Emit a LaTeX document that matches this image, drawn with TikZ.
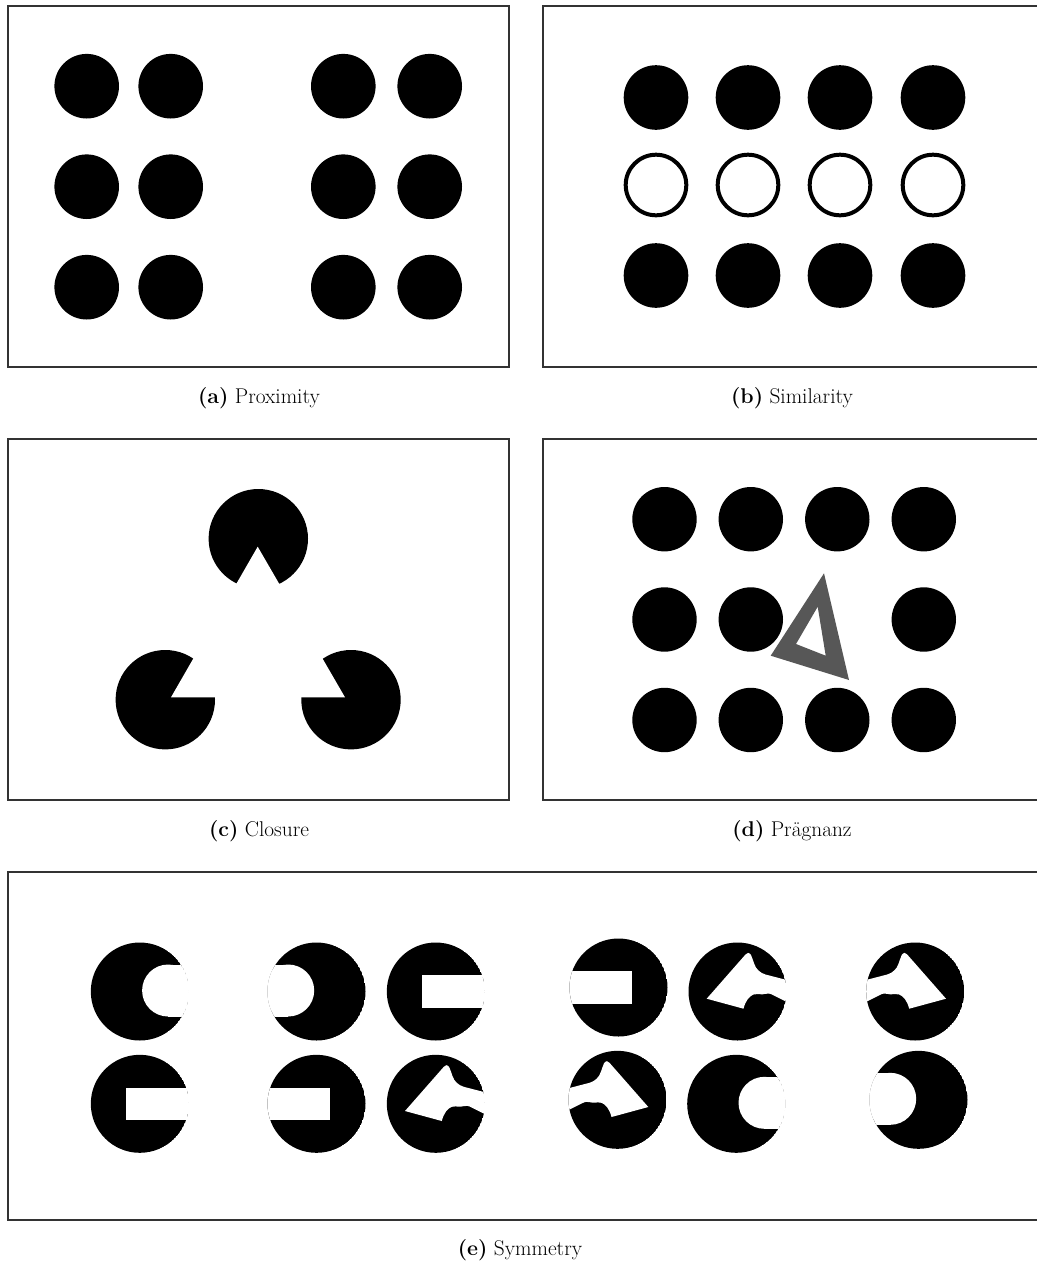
\documentclass[tikz,border=0pt]{standalone}
\usepackage{fontspec}
\begin{document}
\begin{tikzpicture}[x=0.75pt,y=-0.75pt,
  frame/.style={draw=black!80,line width=0.9pt},
  ring/.style={draw=black,line width=3pt,fill=white},
  captext/.style={font=\fontsize{16}{19}\selectfont,anchor=base},
  tri/.style={fill=black!66,even odd rule},
  cbite/.pic={\begin{scope}
      \clip (0,0) circle[radius=49];
      \fill (0,0) circle[radius=49];
      \fill[white] (28.3,-1) circle[radius=26];
      \fill[white] (28.3,-27) rectangle (60,25);
    \end{scope}},
  rbite/.pic={\begin{scope}
      \clip (0,0) circle[radius=49];
      \fill (0,0) circle[radius=49];
      \fill[white] (-13.5,-16.3) rectangle (60,16.3);
    \end{scope}},
  fbite/.pic={\begin{scope}
      \clip (0,0) circle[radius=49];
      \fill (0,0) circle[radius=49];
      \fill[white] (8,-37) .. controls (9,-39.5) and (12,-39) .. (13.5,-36.5)
        .. controls (16,-31) and (17,-24) .. (21,-21)
        .. controls (23,-19) and (25,-18) .. (28,-17) -- (55,-10) -- (55,13.3)
        -- (36,3.8) .. controls (33,2) and (30,1.5) .. (28,2.3)
        .. controls (25,3.5) and (20,2) .. (16,3)
        .. controls (12,4.5) and (8,9) .. (6,17.2) -- (-30.8,7.2) -- cycle;
    \end{scope}}
]
\useasboundingbox (0,0) rectangle (1036,1264);
\fill[white] (0,0) rectangle (1036,1264);

% frames
\draw[frame] (8,6) rectangle (509,367);
\draw[frame] (543,6) rectangle (1046,367);
\draw[frame] (8,439) rectangle (509,800);
\draw[frame] (543,439) rectangle (1046,800);
\draw[frame] (8,872) rectangle (1046,1220);

% (a) Proximity
\foreach \x in {86.7,170.7,343.3,429.7}
  \foreach \y in {86.2,186.7,287.2}
    \fill (\x,\y) circle[radius=32.3];

% (b) Similarity
\foreach \x in {656,748,840,933} {
  \fill (\x,97.5) circle[radius=32.3];
  \draw[ring] (\x,185) circle[radius=30.3];
  \fill (\x,275.5) circle[radius=32.3];
}

% (c) Closure
\fill (258.3,538.7) circle[radius=49.7];
\fill (165.3,699.7) circle[radius=49.7];
\fill (351,699.7) circle[radius=49.7];
\fill[white] (257.7,546.7) -- (171,697.3) -- (345,697.3) -- cycle;

% (d) Pragnanz
\foreach \x in {664.5,750.8,837.3,923.8} {
  \fill (\x,519.2) circle[radius=32.2];
  \fill (\x,720) circle[radius=32.2];
}
\foreach \x in {664.5,750.8,923.8}
  \fill (\x,619.5) circle[radius=32.2];
\fill[tri] (824,573.3) -- (770.7,655.7) -- (849,680) -- cycle
           (817.7,606.7) -- (796,644) -- (825.7,655.7) -- cycle;

% (e) Symmetry
\pic at (139.8,991.5) {cbite};
\pic[xscale=-1] at (316.5,991.5) {cbite};
\pic at (435.8,991.5) {rbite};
\pic[xscale=-1] at (618.5,987.5) {rbite};
\pic at (737.5,991.5) {fbite};
\pic[xscale=-1] at (915.2,991.5) {fbite};
\pic at (139.8,1103.8) {rbite};
\pic[xscale=-1] at (316.5,1103.8) {rbite};
\pic at (435.8,1103.8) {fbite};
\pic[xscale=-1] at (617.5,1099.8) {fbite};
\pic at (736.2,1103.8) {cbite};
\pic[xscale=-1] at (918.5,1099.8) {cbite};

% captions
\node[captext] (capa) at (259,403) {\textbf{(a)} Proximity};
\node[captext] (capb) at (792,403) {\textbf{(b)} Similarity};
\node[captext] (capc) at (259,836) {\textbf{(c)} Closure};
\node[captext] (capd) at (792,836) {\textbf{(d)} Prägnanz};
\node[captext] (cape) at (520,1255) {\textbf{(e)} Symmetry};
\end{tikzpicture}
\end{document}
